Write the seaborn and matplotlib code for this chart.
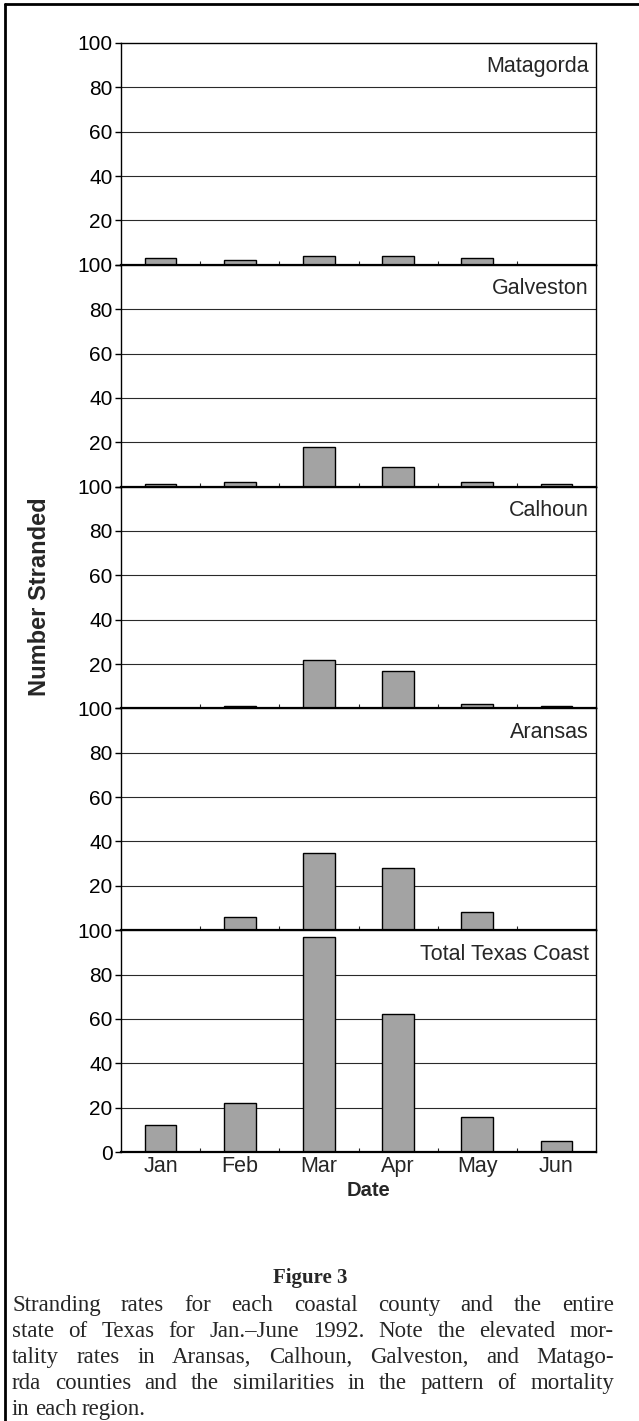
import numpy as np
import pandas as pd
import matplotlib
matplotlib.use("Agg")
import matplotlib.pyplot as plt
import seaborn as sns

# ── Data ───────────────────────────────────────────────────────────────────────
months = ["Jan", "Feb", "Mar", "Apr", "May", "Jun"]
regions = ["Matagorda", "Galveston", "Calhoun", "Aransas", "Total Texas Coast"]

matagorda = [3, 2, 4, 4, 3, 0]
galveston = [1, 2, 18, 9, 2, 1]
calhoun   = [0, 1, 22, 17, 2, 1]
aransas   = [0, 6, 35, 28, 8, 0]
total     = [12, 22, 97, 62, 16, 5]

series = [matagorda, galveston, calhoun, aransas, total]

y_ticks = [0, 20, 40, 60, 80, 100]

caption_title = "Figure 3"
caption_lines = [
    "Stranding rates for each coastal county and the entire",
    "state of Texas for Jan.\u2013June 1992. Note the elevated mor-",
    "tality rates in Aransas, Calhoun, Galveston, and Matago-",
    "rda counties and the similarities in the pattern of mortality",
    "in each region.",
]

# ── Style ──────────────────────────────────────────────────────────────────────
sns.set_theme(style="ticks")
plt.rcParams["font.family"] = ["Liberation Sans", "DejaVu Sans"]

BAR_COL = "#a3a3a3"
W, H = 639, 1421
fig = plt.figure(figsize=(W / 100, H / 100), dpi=100)

left_px, right_px = 121, 596
top_px, bot_px = 43, 1152
panel_h = (bot_px - top_px) / len(regions)

axes = []
for i, (name, vals) in enumerate(zip(regions, series)):
    y0 = top_px + i * panel_h
    ax = fig.add_axes([left_px / W, 1 - (y0 + panel_h) / H,
                       (right_px - left_px) / W, panel_h / H])
    df = pd.DataFrame({"month": months, "n": vals})
    sns.barplot(data=df, x="month", y="n", color=BAR_COL, edgecolor="black",
                linewidth=1.0, width=0.4, saturation=1, ax=ax)
    ax.set_xlim(-0.5, 5.5)
    ax.set_ylim(0, 100)
    ax.set_yticks(y_ticks)
    if i < len(regions) - 1:
        ax.set_yticklabels([""] + [str(t) for t in y_ticks[1:]])
    else:
        ax.set_yticklabels([str(t) for t in y_ticks])
    for t in y_ticks[1:-1]:
        ax.axhline(t, color="#2a2a2a", lw=0.8, zorder=0)
    ax.tick_params(axis="y", direction="out", length=4, width=1,
                   labelsize=15, pad=2, colors="black")
    ax.set_xticks(np.arange(0.5, 5.5, 1.0), minor=True)
    ax.tick_params(axis="x", which="minor", direction="in", length=3, width=0.8)
    ax.tick_params(axis="x", which="major", length=0, labelsize=15.5, pad=3)
    if i < len(regions) - 1:
        ax.set_xticklabels([])
    ax.set_xlabel("")
    ax.set_ylabel("")
    for s in ["left", "right", "top"]:
        ax.spines[s].set_linewidth(1.0)
        ax.spines[s].set_color("black")
    ax.spines["bottom"].set_linewidth(1.6)
    ax.spines["bottom"].set_color("black")
    ax.text(0.985, 0.94, name, transform=ax.transAxes, ha="right", va="top",
            fontsize=15.5)
    axes.append(ax)

axes[-1].set_xlabel("Date", fontsize=14.5, fontweight="bold")
axes[-1].xaxis.set_label_coords((368 - left_px) / (right_px - left_px),
                                -(1181 - bot_px) / panel_h)
fig.text(40 / W, 1 - 597 / H, "Number Stranded", rotation=90, ha="center",
         va="center", fontsize=17, fontweight="bold")

# ── Frame (top and left rules) ─────────────────────────────────────────────────
fig.add_artist(plt.Line2D([5 / W, 5 / W], [0, 1 - 4 / H], color="black", lw=2))
fig.add_artist(plt.Line2D([5 / W, 1], [1 - 4 / H, 1 - 4 / H], color="black", lw=2))

# ── Caption (justified) ────────────────────────────────────────────────────────
serif = ["Liberation Serif", "DejaVu Serif"]
fig.text(310 / W, 1 - 1278 / H, caption_title, ha="center", va="center",
         fontsize=15, fontweight="bold", family=serif)

renderer = fig.canvas.get_renderer()
cap_left, cap_right = 12, 614
line_base = [1311, 1337, 1363, 1389, 1415]
for k, (line, ypx) in enumerate(zip(caption_lines, line_base)):
    words = line.split(" ")
    texts = [fig.text(0, 1 - ypx / H, w, ha="left", va="baseline",
                      fontsize=16.5, family=serif) for w in words]
    widths = [t.get_window_extent(renderer).width for t in texts]
    if k < len(caption_lines) - 1 and len(words) > 1:
        gap = (cap_right - cap_left - sum(widths)) / (len(words) - 1)
    else:
        gap = 5
    x = cap_left
    for t, w in zip(texts, widths):
        t.set_x(x / W)
        x += w + gap

fig.savefig("out.png", dpi=100)
